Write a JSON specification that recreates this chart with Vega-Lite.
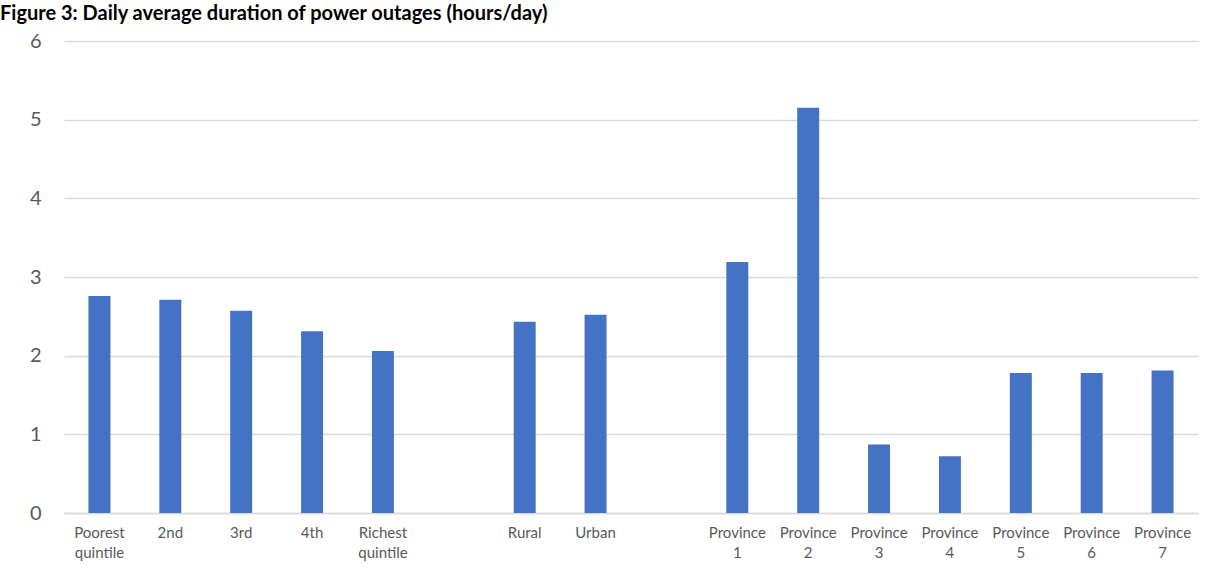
{
  "$schema": "https://vega.github.io/schema/vega-lite/v6.json",
  "autosize": {"type": "none"},
  "width": 1134,
  "height": 472,
  "padding": {"left": 64, "top": 41, "right": 12, "bottom": 65},
  "background": "white",
  "title": {
    "text": "Figure 3: Daily average duration of power outages (hours/day)",
    "anchor": "start",
    "frame": "group",
    "dx": -64,
    "dy": 27,
    "offset": 18,
    "baseline": "alphabetic",
    "font": "Lato",
    "fontSize": 20,
    "fontWeight": "bold",
    "color": "#000000"
  },
  "data": {
    "values": [
      {"group": "Poorest quintile", "hours": 2.76},
      {"group": "2nd", "hours": 2.71},
      {"group": "3rd", "hours": 2.57},
      {"group": "4th", "hours": 2.31},
      {"group": "Richest quintile", "hours": 2.06},
      {"group": "Rural", "hours": 2.43},
      {"group": "Urban", "hours": 2.52},
      {"group": "Province 1", "hours": 3.19},
      {"group": "Province 2", "hours": 5.15},
      {"group": "Province 3", "hours": 0.87},
      {"group": "Province 4", "hours": 0.72},
      {"group": "Province 5", "hours": 1.78},
      {"group": "Province 6", "hours": 1.78},
      {"group": "Province 7", "hours": 1.81}
    ]
  },
  "mark": {"type": "bar", "color": "#4472C4"},
  "encoding": {
    "x": {
      "field": "group",
      "type": "nominal",
      "scale": {
        "domain": ["Poorest quintile", "2nd", "3rd", "4th", "Richest quintile", "gap a", "Rural", "Urban", "gap b", "Province 1", "Province 2", "Province 3", "Province 4", "Province 5", "Province 6", "Province 7"],
        "paddingInner": 0.69,
        "paddingOuter": 0.345
      },
      "axis": {
        "title": null,
        "labelAngle": 0,
        "labelExpr": "indexof(datum.value, 'gap') == 0 ? '' : split(datum.value, ' ')",
        "labelFont": "Lato",
        "labelFontSize": 15,
        "labelLineHeight": 20,
        "labelColor": "#595959",
        "labelPadding": 12,
        "ticks": false,
        "domainColor": "#d9d9d9",
        "domainWidth": 1.3,
        "grid": false
      }
    },
    "y": {
      "field": "hours",
      "type": "quantitative",
      "scale": {"domain": [0, 6], "nice": false},
      "axis": {
        "title": null,
        "values": [0, 1, 2, 3, 4, 5, 6],
        "labelFont": "Lato",
        "labelFontSize": 20,
        "labelColor": "#595959",
        "labelPadding": 23,
        "ticks": false,
        "domain": false,
        "gridColor": "#d9d9d9",
        "gridWidth": 1.3
      }
    }
  },
  "config": {"view": {"stroke": null}}
}
